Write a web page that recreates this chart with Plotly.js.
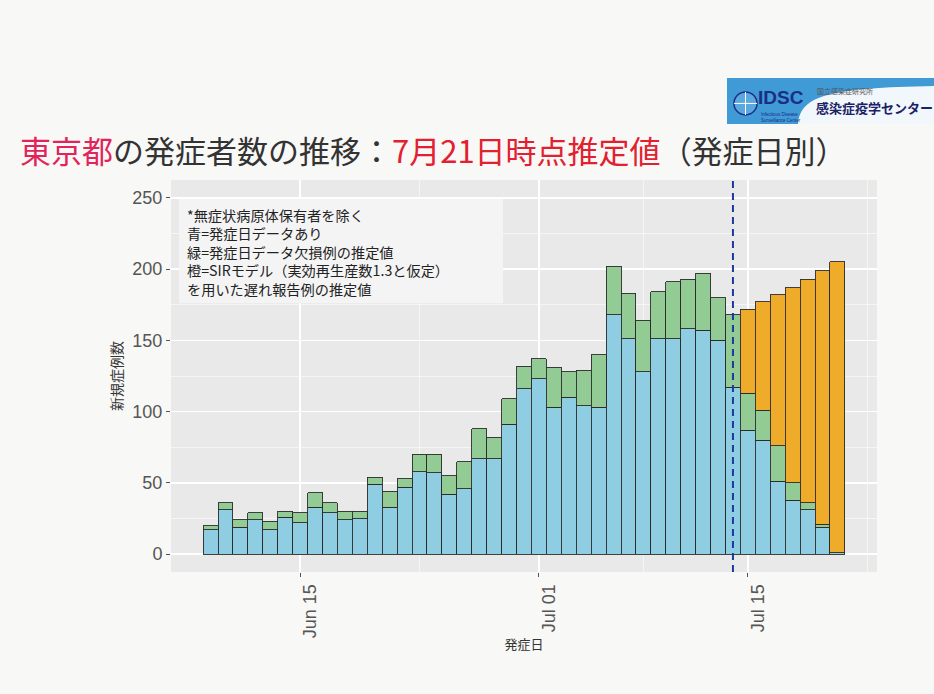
<!DOCTYPE html>
<html>
<head>
<meta charset="utf-8">
<script src="https://cdn.plot.ly/plotly-3.0.1.min.js"></script>
<style>
  html, body { margin: 0; padding: 0; background: #f8f8f6; }
  #chart { width: 934px; height: 694px; }
</style>
</head>
<body>
<div id="chart"></div>
<script>
// ---- data ----
const dates = [
  '2020-06-09','2020-06-10','2020-06-11','2020-06-12','2020-06-13','2020-06-14','2020-06-15',
  '2020-06-16','2020-06-17','2020-06-18','2020-06-19','2020-06-20','2020-06-21','2020-06-22',
  '2020-06-23','2020-06-24','2020-06-25','2020-06-26','2020-06-27','2020-06-28','2020-06-29',
  '2020-06-30','2020-07-01','2020-07-02','2020-07-03','2020-07-04','2020-07-05','2020-07-06',
  '2020-07-07','2020-07-08','2020-07-09','2020-07-10','2020-07-11','2020-07-12','2020-07-13',
  '2020-07-14','2020-07-15','2020-07-16','2020-07-17','2020-07-18','2020-07-19','2020-07-20',
  '2020-07-21'
];
// 青 = 発症日データあり
const blueValues = [
  17, 31, 19, 24, 17, 26, 22,
  33, 29, 24, 25, 49, 33, 47,
  58, 57, 42, 46, 67, 67, 91,
  116, 123, 103, 110, 104, 103, 168,
  151, 128, 151, 151, 158, 157, 150,
  117, 87, 80, 51, 38, 31, 19,
  1
];
// 緑 = 発症日データ欠損例の推定値
const greenValues = [
  3, 5, 5, 5, 6, 4, 7,
  10, 7, 6, 5, 5, 11, 6,
  12, 13, 13, 19, 21, 15, 18,
  16, 14, 28, 18, 25, 37, 34,
  32, 36, 33, 40, 35, 40, 30,
  51, 26, 21, 25, 12, 5, 2,
  null
];
// 橙 = SIRモデルを用いた遅れ報告例の推定値
const orangeValues = [
  null, null, null, null, null, null, null,
  null, null, null, null, null, null, null,
  null, null, null, null, null, null, null,
  null, null, null, null, null, null, null,
  null, null, null, null, null, null, null,
  null, 59, 76, 106, 137, 157, 178,
  204
];
const seriesNames = ['青=発症日データあり', '緑=発症日データ欠損例の推定値', '橙=SIRモデルを用いた遅れ報告例の推定値'];
const xTickVals = ['2020-06-15', '2020-07-01', '2020-07-15'];
const xMinorVals = ['2020-06-23', '2020-07-08', '2020-07-23'];
const yTickVals = [0, 50, 100, 150, 200, 250];
const yMinorVals = [25, 75, 125, 175, 225];
const cutoffDate = '2020-07-14';
const noteLines = [
  '*無症状病原体保有者を除く',
  '青=発症日データあり',
  '緑=発症日データ欠損例の推定値',
  '橙=SIRモデル（実効再生産数1.3と仮定）',
  'を用いた遅れ報告例の推定値'
];

// ---- geometry helpers (pixel -> paper) ----
const W = 934, H = 694;
const L = 171, R = 877, T = 180, B = 571.6;
const px = x => (x - L) / (R - L);
const py = y => (B - y) / (B - T);

const CJK = '"Noto Sans CJK JP", "Noto Sans", sans-serif';
const LAT = '"Liberation Sans", Arial, sans-serif';
const DAY = 86400000;
const outline = { color: '#2b2b2b', width: 0.9 };

const traces = [
  { type: 'bar', name: seriesNames[0], x: dates, y: blueValues, width: DAY,
    marker: { color: '#8fcde2', line: outline } },
  { type: 'bar', name: seriesNames[1], x: dates, y: greenValues, width: DAY,
    marker: { color: '#92cc94', line: outline } },
  { type: 'bar', name: seriesNames[2], x: dates, y: orangeValues, width: DAY,
    marker: { color: '#efab2a', line: outline } }
];

const annotations = [
  { xref: 'paper', yref: 'paper', x: px(185), y: py(203), xanchor: 'left', yanchor: 'top',
    showarrow: false, align: 'left', text: noteLines.join('<br>'),
    font: { family: CJK, size: 14.2, color: '#222' } }
];

// logo texts
annotations.push(
  { xref: 'paper', yref: 'paper', x: px(756), y: py(98), xanchor: 'left', yanchor: 'middle',
    showarrow: false, text: '<b>IDSC</b>', font: { family: LAT, size: 19, color: '#1b2e86' } },
  { xref: 'paper', yref: 'paper', x: px(759), y: py(118), xanchor: 'left', yanchor: 'middle',
    showarrow: false, text: 'Infectious Disease<br>Surveillance Center', align: 'left',
    font: { family: LAT, size: 4.5, color: '#1b2e86' } },
  { xref: 'paper', yref: 'paper', x: px(815), y: py(91), xanchor: 'left', yanchor: 'middle',
    showarrow: false, text: '国立感染症研究所', font: { family: CJK, size: 7, color: '#555' } },
  { xref: 'paper', yref: 'paper', x: px(814), y: py(108), xanchor: 'left', yanchor: 'middle',
    showarrow: false, text: '<b>感染症疫学センター</b>', font: { family: CJK, size: 13, color: '#1a2266' } }
);

const shapes = [
  // note box
  { type: 'rect', xref: 'paper', yref: 'paper', x0: px(179), x1: px(503), y0: py(303), y1: py(199),
    fillcolor: '#f4f4f4', line: { width: 0 }, layer: 'above' },
  // cutoff dashed line
  { type: 'line', xref: 'x', yref: 'paper', x0: cutoffDate, x1: cutoffDate, y0: 0, y1: 1,
    line: { color: '#1f3a9e', width: 2, dash: '7px,5px' } },
  // logo banner
  { type: 'rect', xref: 'paper', yref: 'paper', x0: px(727), x1: px(934), y0: py(124), y1: py(78),
    fillcolor: '#3f9ad6', line: { width: 0 } },
  { type: 'path', xref: 'paper', yref: 'paper',
    path: `M ${px(798)} ${py(124)} C ${px(800)} ${py(95)}, ${px(830)} ${py(88)}, ${px(934)} ${py(86)} L ${px(934)} ${py(124)} Z`,
    fillcolor: '#f2f7fb', line: { width: 0 } },
  { type: 'circle', xref: 'paper', yref: 'paper', x0: px(734), x1: px(757), y0: py(115), y1: py(92),
    fillcolor: '#5aa8df', line: { color: '#1b2e86', width: 1.5 } },
  { type: 'line', xref: 'paper', yref: 'paper', x0: px(734), x1: px(757), y0: py(103.5), y1: py(103.5),
    line: { color: '#ffffff', width: 1 } },
  { type: 'line', xref: 'paper', yref: 'paper', x0: px(745.5), x1: px(745.5), y0: py(115), y1: py(92),
    line: { color: '#ffffff', width: 1 } }
];

const layout = {
  width: W, height: H, autosize: false,
  margin: { l: L, r: W - R, t: T, b: H - B },
  paper_bgcolor: '#f8f8f6',
  plot_bgcolor: '#e9e9e9',
  barmode: 'stack',
  bargap: 0,
  showlegend: false,
  font: { family: LAT, color: '#333' },
  title: {
    text: '<span style="color:#e2245a">東京都</span>の発症者数の推移：<span style="color:#e3202f">7月21日時点推定値</span>（発症日別）',
    font: { family: CJK, size: 31, color: '#333' },
    xref: 'container', yref: 'container', x: 20 / W, xanchor: 'left', y: 1 - 152 / H, yanchor: 'middle'
  },
  xaxis: {
    type: 'date',
    range: ['2020-06-06 08:24', '2020-07-23 15:36'],
    tickmode: 'array', tickvals: xTickVals, tickformat: '%b %d',
    tickangle: -90, ticklabelshift: 10,
    tickfont: { family: LAT, size: 18, color: '#555' },
    ticks: 'outside', ticklen: 4, tickcolor: '#555', tickwidth: 1,
    showgrid: true, gridcolor: '#ffffff', gridwidth: 1.5,
    minor: { tickmode: 'array', tickvals: xMinorVals, showgrid: true, gridcolor: '#f7f7f7', gridwidth: 0.8, ticks: '' },
    zeroline: false, showline: false, automargin: false,
    title: { text: '発症日', font: { family: CJK, size: 13, color: '#333' }, standoff: 2 }
  },
  yaxis: {
    range: [-12.5, 262.5],
    tickmode: 'array', tickvals: yTickVals,
    tickfont: { family: LAT, size: 18, color: '#555' },
    ticks: 'outside', ticklen: 4, tickcolor: '#555', tickwidth: 1,
    showgrid: true, gridcolor: '#ffffff', gridwidth: 1.5,
    minor: { tickmode: 'array', tickvals: yMinorVals, showgrid: true, gridcolor: '#f7f7f7', gridwidth: 0.8, ticks: '' },
    zeroline: false, showline: false, automargin: false,
    title: { text: '新規症例数', font: { family: CJK, size: 14, color: '#333' }, standoff: 6 }
  },
  annotations: annotations,
  shapes: shapes
};

Plotly.newPlot('chart', traces, layout, { displayModeBar: false, staticPlot: true });
</script>
</body>
</html>
